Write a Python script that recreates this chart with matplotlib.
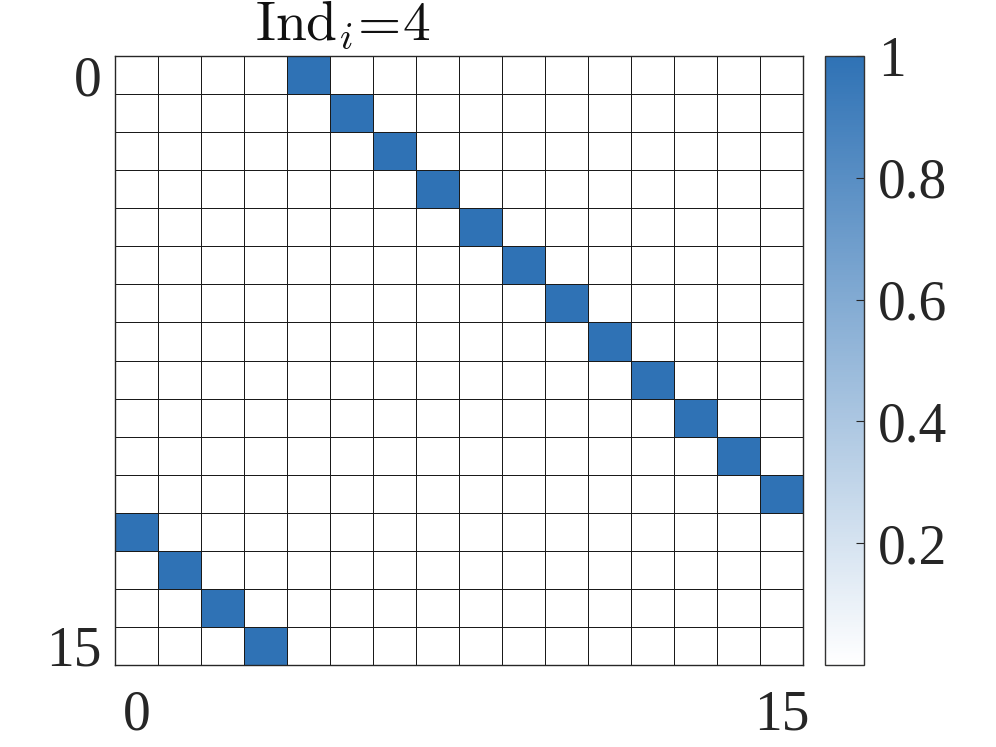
import matplotlib.pyplot as plt
import numpy as np
from matplotlib.colors import LinearSegmentedColormap

plt.rcParams['font.family'] = ['Liberation Serif', 'DejaVu Serif']
plt.rcParams['mathtext.fontset'] = 'cm'

# permutation matrix, shift Ind_i = 4
n = 16
rows = [0, 1, 2, 3, 4, 5, 6, 7, 8, 9, 10, 11, 12, 13, 14, 15]
cols = [4, 5, 6, 7, 8, 9, 10, 11, 12, 13, 14, 15, 0, 1, 2, 3]
tick_labels = ['0', '15']
cbar_ticks = [0.2, 0.4, 0.6, 0.8, 1]
cbar_labels = ['0.2', '0.4', '0.6', '0.8', '1']

M = np.zeros((n, n))
for r, c in zip(rows, cols):
    M[r, c] = 1

cmap = LinearSegmentedColormap.from_list('wb', ['#ffffff', '#2f72b5'])

fig = plt.figure(figsize=(9.96, 7.47), dpi=100)
ax = fig.add_axes([0.1155, 0.1098, 0.6908, 0.8152])
cax = fig.add_axes([0.8283, 0.1098, 0.0392, 0.8152])

mesh = ax.pcolormesh(np.arange(n + 1), np.arange(n + 1), M, cmap=cmap,
                     vmin=0, vmax=1, edgecolors='#1a1a1a', linewidth=0.7)
ax.set_xlim(0, n)
ax.set_ylim(n, 0)
ax.set_xticks([0.5, n - 0.5])
ax.set_xticklabels(tick_labels)
ax.set_yticks([0.5, n - 0.5])
ax.set_yticklabels(tick_labels)
ax.tick_params(axis='both', length=0, labelsize=40, colors='#262626')
ax.tick_params(axis='x', pad=18)
ax.tick_params(axis='y', pad=10)
for s in ax.spines.values():
    s.set_color('#262626')
    s.set_linewidth(1.0)

# title sits left of centre in the original
fig.text(343 / 996, 1 - 40 / 747, r'$\mathrm{Ind}_i\!=\!4$', fontsize=40,
         ha='center', va='baseline', color='#111111')

cb = fig.colorbar(mesh, cax=cax)
cb.set_ticks(cbar_ticks)
cb.set_ticklabels(cbar_labels)
cax.tick_params(direction='in', length=6, labelsize=40, colors='#262626', pad=10)
cb.outline.set_edgecolor('#333333')
cb.outline.set_linewidth(1.0)

fig.savefig('out.png', dpi=100)
